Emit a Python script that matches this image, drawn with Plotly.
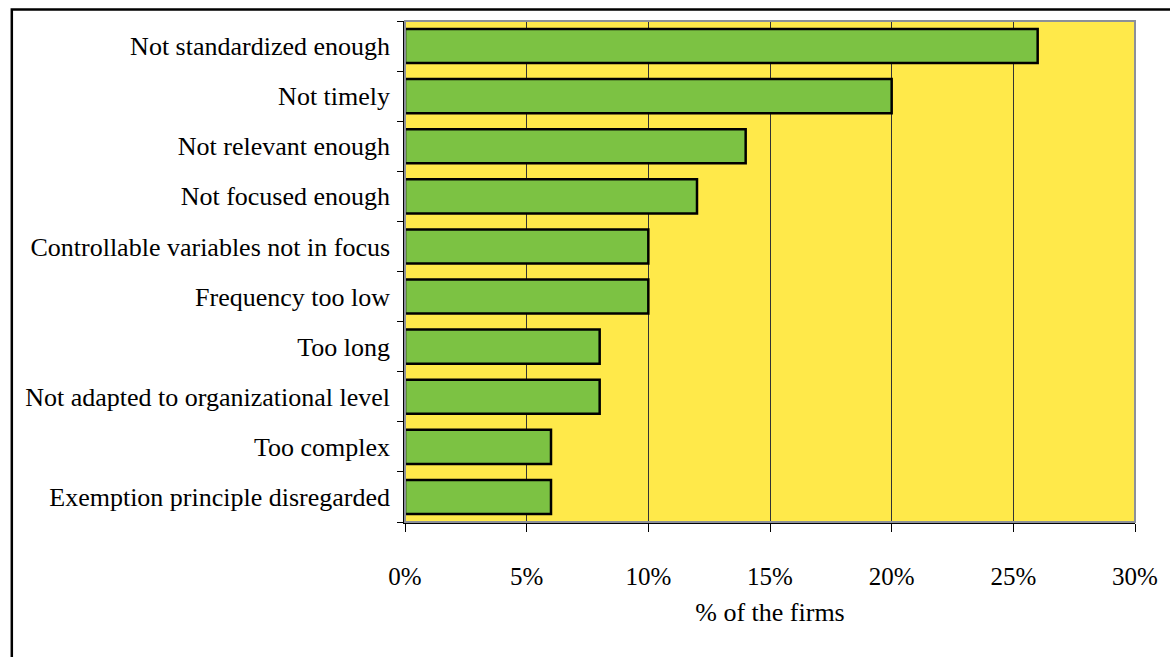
import plotly.graph_objects as go

categories = [
    "Not standardized enough",
    "Not timely",
    "Not relevant enough",
    "Not focused enough",
    "Controllable variables not in focus",
    "Frequency too low",
    "Too long",
    "Not adapted to organizational level",
    "Too complex",
    "Exemption principle disregarded",
]
values = [26, 20, 14, 12, 10, 10, 8, 8, 6, 6]
x_ticks = [0, 5, 10, 15, 20, 25, 30]
x_tick_labels = ["0%", "5%", "10%", "15%", "20%", "25%", "30%"]

FONT = "Liberation Serif"

fig = go.Figure(
    go.Bar(
        x=values,
        y=categories,
        orientation="h",
        marker=dict(color="#7CC243", line=dict(color="black", width=2.5)),
        hoverinfo="x+y",
    )
)

L, R, T, B = 405, 1143, 21, 522
W, H = 1170, 657
pw, ph = R - L, B - T

def px_x(p):
    return (p - L) / pw

def px_y(p):
    return (B - p) / ph

fig.update_layout(
    width=W,
    height=H,
    margin=dict(l=L, r=W - R, t=T, b=H - B, pad=0),
    paper_bgcolor="white",
    plot_bgcolor="#FFE94A",
    bargap=0.32,
    showlegend=False,
    font=dict(family=FONT, size=26, color="black"),
    xaxis=dict(
        range=[0, 30],
        tickvals=x_ticks,
        ticktext=x_tick_labels,
        showgrid=True,
        gridcolor="#333333",
        gridwidth=1,
        zeroline=False,
        showline=True,
        linecolor="black",
        linewidth=1.5,
        ticks="outside",
        ticklen=8,
        tickcolor="black",
        ticklabelstandoff=23,
        tickfont=dict(family=FONT, size=25),
        title=dict(text="% of the firms", font=dict(family=FONT, size=26), standoff=14),
        fixedrange=True,
    ),
    yaxis=dict(
        categoryorder="array",
        categoryarray=categories[::-1],
        showgrid=False,
        zeroline=False,
        showline=True,
        linecolor="black",
        linewidth=1.5,
        ticks="outside",
        tickson="boundaries",
        ticklen=6,
        tickcolor="black",
        ticklabelstandoff=8,
        tickfont=dict(family=FONT, size=26),
        fixedrange=True,
    ),
    shapes=[
        dict(type="rect", xref="paper", yref="paper", x0=0, x1=1, y0=0, y1=1,
             line=dict(color="#8C9099", width=2), layer="above"),
        dict(type="rect", xref="paper", yref="paper",
             x0=px_x(7.5), x1=px_x(1180), y0=px_y(670), y1=px_y(9.5),
             line=dict(color="black", width=2.5), layer="above"),
    ],
)

fig.write_html(
    "out.html",
    config={"displayModeBar": False},
    post_script="document.body.style.margin='0';document.body.style.overflow='hidden';",
)
